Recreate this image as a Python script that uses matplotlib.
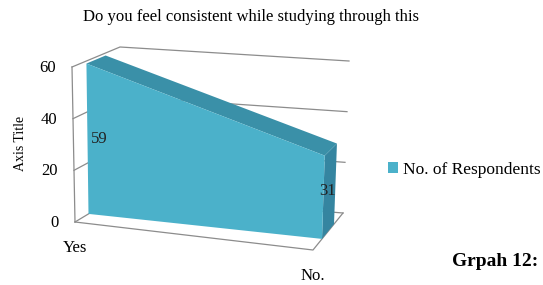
import numpy as np
import matplotlib
matplotlib.use('Agg')
from matplotlib import pyplot as plt
from matplotlib.patches import Polygon, Patch

# chart data
categories = ['Yes', 'No.']
respondents = [59, 31]
y_ticks = [0, 20, 40, 60]
series_name = 'No. of Respondents'
title = 'Do you feel consistent while studying through this'
y_title = 'Axis Title'
caption = 'Grpah 12:'

# colours (excel-ish aqua)
front_col = '#4bb1ca'
top_col = '#3a90a8'
side_col = '#3585a0'
grid_col = '#8c8c8c'

# fake 3d box: floor corners and "up" vectors (per unit value) in pixels
# order: front-left, front-right, back-left, back-right
floor = np.array([[75, 222], [313, 250], [120, 195], [343, 213]], dtype=float)
ups = np.array([[-3, -155], [5, -165], [0, -148], [6, -152]], dtype=float) / 60.0
d_front, d_back = 0.3, 0.7  # depth of the series slab


def bilin(c, x, d):
    return (1 - x) * (1 - d) * c[0] + x * (1 - d) * c[1] + (1 - x) * d * c[2] + x * d * c[3]


def proj(x, d, v):
    return bilin(floor, x, d) + v * bilin(ups, x, d)


fig = plt.figure(figsize=(5.43, 2.85), dpi=100)
ax = fig.add_axes([0, 0, 1, 1])
ax.set_xlim(0, 543)
ax.set_ylim(285, 0)
ax.axis('off')

serif = ['Liberation Serif', 'DejaVu Serif']

# walls + gridlines
for v in y_ticks:
    pts = np.array([proj(0, 0, v), proj(0, 1, v), proj(1, 1, v)])
    ax.plot(pts[:, 0], pts[:, 1], color=grid_col, lw=0.9, zorder=1)
axis_pts = np.array([proj(0, 0, 0), proj(0, 0, max(y_ticks))])
ax.plot(axis_pts[:, 0], axis_pts[:, 1], color=grid_col, lw=0.9, zorder=1)
fl = np.array([proj(0, 0, 0), proj(1, 0, 0), proj(1, 1, 0)])
ax.plot(fl[:, 0], fl[:, 1], color=grid_col, lw=0.9, zorder=1)

# y tick labels
for v in y_ticks:
    p = proj(0, 0, v)
    ax.text(p[0] - 16, p[1] + 1, str(v), ha='right', va='center', fontsize=12, family=serif)

ax.text(21, 143, y_title, rotation=90, ha='center', va='center', fontsize=10, family=serif)

# series slab
xs = np.linspace(0, 1, len(categories))
n = len(xs)
# right side face
side = [proj(xs[-1], d_front, 0), proj(xs[-1], d_front, respondents[-1]),
        proj(xs[-1], d_back, respondents[-1]), proj(xs[-1], d_back, 0)]
ax.add_patch(Polygon(side, closed=True, facecolor=side_col, edgecolor='none', zorder=3))
# top faces
for i in range(n - 1):
    top = [proj(xs[i], d_front, respondents[i]), proj(xs[i + 1], d_front, respondents[i + 1]),
           proj(xs[i + 1], d_back, respondents[i + 1]), proj(xs[i], d_back, respondents[i])]
    ax.add_patch(Polygon(top, closed=True, facecolor=top_col, edgecolor='none', zorder=3))
# front face
front = [proj(x, d_front, v) for x, v in zip(xs, respondents)]
front += [proj(x, d_front, 0) for x in xs[::-1]]
ax.add_patch(Polygon(front, closed=True, facecolor=front_col, edgecolor='none', zorder=4))

# data labels
p = proj(xs[0], d_front, respondents[0] / 2)
ax.text(p[0] + 3, p[1], str(respondents[0]), ha='left', va='center', fontsize=12,
        family=serif, color='#222222', zorder=5)
p = proj(xs[-1], (d_front + d_back) / 2, respondents[-1] / 2)
ax.text(p[0] - 2, p[1], str(respondents[-1]), ha='center', va='center', fontsize=12,
        family=serif, color='#222222', zorder=5)

# category labels
for x, lab in zip(xs, categories):
    p = proj(x, 0, 0)
    ax.text(p[0], p[1] + 26, lab, ha='center', va='center', fontsize=12, family=serif)

ax.text(251, 17, title, ha='center', va='center', fontsize=12, family=serif)

ax.legend(handles=[Patch(facecolor=front_col, edgecolor='none', label=series_name)],
          loc='center left', bbox_to_anchor=(388 / 543, 1 - 170 / 285), frameon=False,
          borderpad=0, borderaxespad=0,
          handlelength=0.6, handleheight=0.6, handletextpad=0.25,
          prop={'family': serif, 'size': 12.5})

ax.text(538, 262, caption, ha='right', va='center', fontsize=14, fontweight='bold', family=serif)

fig.savefig('out.png', dpi=100)
